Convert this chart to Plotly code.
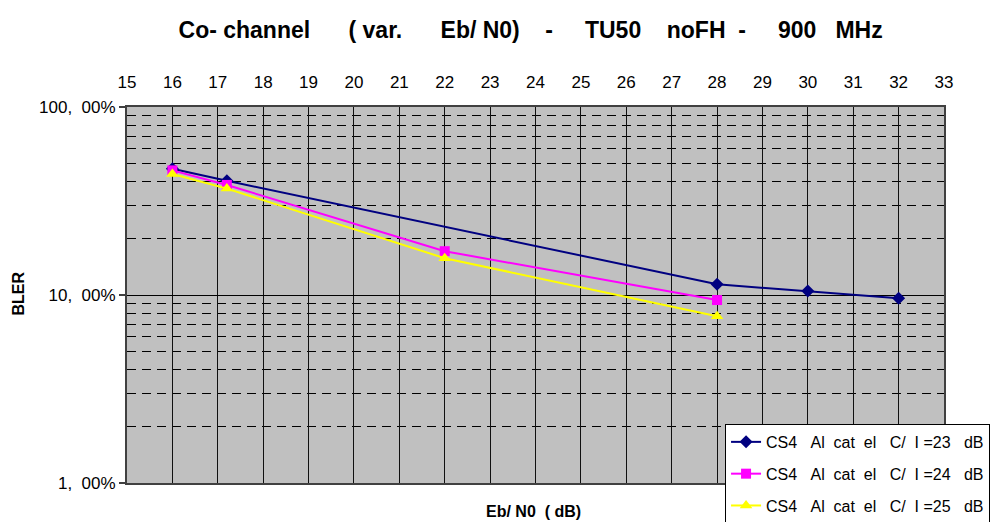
import plotly.graph_objects as go

x_blue = [16, 17.2, 28, 30, 32]
y_blue = [0.47, 0.405, 0.114, 0.105, 0.096]
x_pink = [16, 17.2, 22, 28]
y_pink = [0.46, 0.385, 0.171, 0.094]
x_yellow = [16, 17.2, 22, 28]
y_yellow = [0.44, 0.368, 0.157, 0.077]

S = "\u00a0"
names = [f"CS4{S*3}Al{S*2}cat{S*2}el{S*3}C/{S*2}I{S}=23{S*3}dB",
         f"CS4{S*3}Al{S*2}cat{S*2}el{S*3}C/{S*2}I{S}=24{S*3}dB",
         f"CS4{S*3}Al{S*2}cat{S*2}el{S*3}C/{S*2}I{S}=25{S*3}dB"]
x_ticks = list(range(15, 34))
y_tickvals = [0.01, 0.1, 1]
y_ticktext = [f"1,{S*2}00%", f"10,{S*2}00%", f"100,{S*2}00%"]
minor_vals = [m * d for d in (0.01, 0.1) for m in range(2, 10)]
title_text = (f"Co-{S}channel{S*6}({S}var.{S*6}Eb/{S}N0){S*4}-{S*5}TU50{S*4}noFH{S*2}-{S*5}900{S*3}MHz")

FONT = "Liberation Sans, Arial, sans-serif"

fig = go.Figure()
fig.add_trace(go.Scatter(x=x_blue, y=y_blue, mode="lines+markers", name=names[0], legendgroup="a",
                         line=dict(color="#000080", width=2),
                         marker=dict(symbol="diamond", size=10, color="#000080")))
fig.add_trace(go.Scatter(x=x_pink, y=y_pink, mode="lines+markers", name=names[1], legendgroup="b",
                         line=dict(color="#FF00FF", width=2),
                         marker=dict(symbol="square", size=10, color="#FF00FF")))
fig.add_trace(go.Scatter(x=x_yellow, y=y_yellow, mode="lines+markers", name=names[2], legendgroup="c",
                         line=dict(color="#FFFF00", width=2),
                         marker=dict(symbol="triangle-up", size=11, color="#FFFF00")))

fig.update_layout(
    width=990, height=522,
    margin=dict(l=127, r=46, t=107, b=39, autoexpand=False),
    paper_bgcolor="white", plot_bgcolor="#C0C0C0",
    font=dict(family=FONT, size=17, color="black"),
    title=dict(text=f"<b>{title_text}</b>",
               x=0.536, xanchor="center", y=0.943, yanchor="middle",
               font=dict(family=FONT, size=23)),
    xaxis=dict(side="top", range=[15, 33], tickvals=x_ticks, ticks="",
               ticklabelstandoff=10, automargin=False,
               showgrid=True, gridcolor="#101010", gridwidth=1,
               showline=True, linecolor="#404040", linewidth=2, mirror=True,
               zeroline=False, tickfont=dict(size=17)),
    yaxis=dict(type="log", range=[-2, 0], tickvals=y_tickvals, ticktext=y_ticktext,
               ticks="outside", ticklen=6, tickcolor="#404040", tickwidth=2,
               automargin=False, ticklabelstandoff=0,
               showgrid=True, gridcolor="black", gridwidth=1,
               showline=True, linecolor="#404040", linewidth=2, mirror=True,
               tickfont=dict(size=17),
               minor=dict(tickvals=minor_vals, showgrid=True, gridcolor="black",
                          griddash="9px,6px", gridwidth=1, ticks="")),
    legend=dict(x=0.732, y=0.157, xanchor="left", yanchor="top",
                bgcolor="white", bordercolor="black", borderwidth=1,
                traceorder="grouped", tracegroupgap=8,
                font=dict(family=FONT, size=16)),
    showlegend=True,
)
fig.add_annotation(text="<b>BLER</b>", xref="paper", yref="paper", x=-0.133, y=0.505,
                   xanchor="center", yanchor="middle",
                   textangle=-90, showarrow=False, font=dict(size=16))
fig.add_annotation(text=f"<b>Eb/{S}N0{S*2}({S}dB)</b>", xref="paper", yref="paper", x=0.497, y=-0.077,
                   xanchor="center", yanchor="middle", showarrow=False, font=dict(size=16))

fig.write_html("out.html", config={"displayModeBar": False},
               post_script="document.body.style.margin='0';")
